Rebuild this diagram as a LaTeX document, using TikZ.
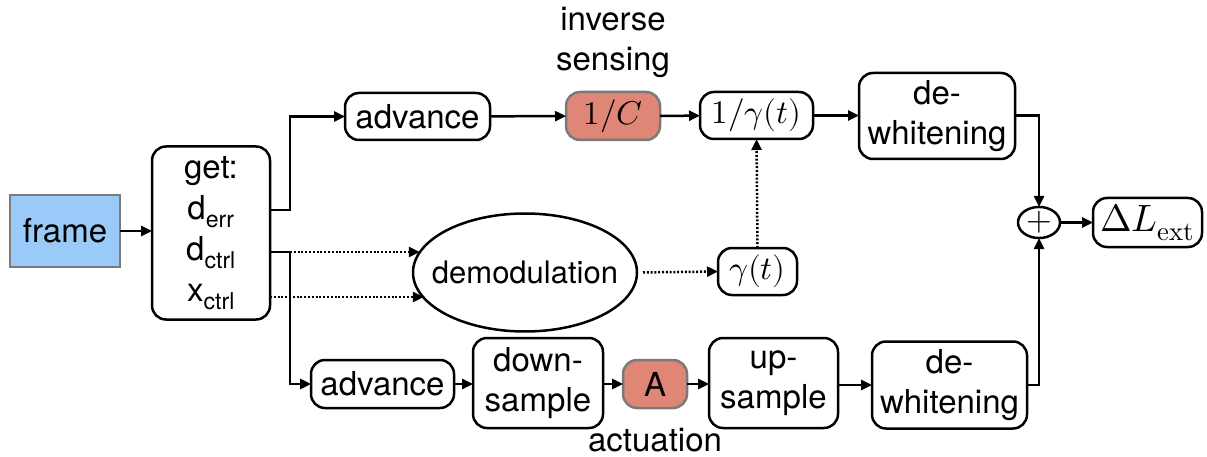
\documentclass[tikz,border=0pt]{standalone}
\usepackage{fontspec}
\usepackage{unicode-math}
\setmainfont{TeX Gyre Heros}
\setmathfont{Latin Modern Math}
\usetikzlibrary{arrows.meta,shapes.geometric}

\definecolor{framefill}{HTML}{9ACBF8}
\definecolor{gainfill}{HTML}{DF8677}
\definecolor{edgegray}{HTML}{7A7A7A}

\begin{document}
\begin{tikzpicture}[x=1pt,y=-1pt,
  every node/.style={font=\fontsize{33}{40}\selectfont, inner sep=0pt, outer sep=0pt},
  blk/.style={draw, line width=2.5pt, rounded corners=14pt, align=center},
  gain/.style={blk, draw=edgegray, fill=gainfill},
  arr/.style={-{Triangle[length=11pt,width=10pt]}, line width=2.5pt},
  wire/.style={line width=2.5pt},
  dotline/.style={dash pattern=on 2pt off 1.8pt}]

\path[use as bounding box] (0,0) rectangle (1207,457);

% input frame and channel reader
\node[draw=edgegray, line width=2.5pt, fill=framefill, minimum width=110pt, minimum height=72pt] (frame) at (65,231) {frame};
\node[blk, minimum width=118pt, minimum height=173pt, font=\fontsize{33}{41}\selectfont] (get) at (211,233) {get:\\d\textsubscript{err}\\d\textsubscript{ctrl}\\x\textsubscript{ctrl}};

% sensing path
\node[blk, minimum width=145pt, minimum height=47pt] (adv1) at (417.5,116.5) {advance};
\node[gain, minimum width=94pt, minimum height=48pt] (invC) at (613,116) {$1/C$};
\node[align=center] (senselbl) at (613,42) {inverse\\sensing};
\node[blk, minimum width=113pt, minimum height=47pt] (invg) at (756.5,115.5) {$1/\gamma(t)$};
\node[blk, minimum width=156pt, minimum height=86pt] (dw1) at (937,116) {de-\\whitening};

% demodulation path
\node[draw, ellipse, line width=2.5pt, minimum width=224pt, minimum height=118pt, font=\fontsize{31}{38}\selectfont] (demod) at (525,272.5) {\makebox[0pt]{demodulation}};
\node[blk, minimum width=79pt, minimum height=47pt] (gam) at (757.5,271.5) {$\gamma(t)$};

% actuation path
\node[blk, minimum width=143pt, minimum height=48pt] (adv2) at (382.5,384) {advance};
\node[blk, minimum width=130pt, minimum height=90pt] (down) at (538,383) {down-\\sample};
\node[gain, minimum width=64pt, minimum height=48pt] (A) at (655,384) {A};
\node (actlbl) at (655,440) {actuation};
\node[blk, minimum width=129pt, minimum height=90pt] (up) at (773.5,383) {up-\\sample};
\node[blk, minimum width=155pt, minimum height=87pt] (dw2) at (949.5,385) {de-\\whitening};

% sum and output
\node[draw, ellipse, line width=2.5pt, minimum width=42pt, minimum height=31pt] (plus) at (1039,222.5) {\makebox[0pt]{$+$}};
\node[blk, minimum width=109pt, minimum height=49pt, font=\fontsize{38}{44}\selectfont] (dL) at (1147.5,222.5) {$\Delta L_{\symup{ext}}$};

% tap points on the reader
\coordinate (derr) at (270,210);
\coordinate (dctrl) at (270,252);
\coordinate (xctrl) at (270,297);
\coordinate (split) at (290,252);

% connectors
\draw[arr] (frame) -- (frame -| get.west);
\draw[arr] (derr) -- ++(20,0) |- (adv1.west);
\draw[arr] (adv1) -- (invC);
\draw[arr] (invC) -- (invg);
\draw[arr] (invg) -- (invg -| dw1.west);
\draw[arr] (dw1.east |- invg) -| (plus.north);

\draw[wire] (dctrl) -- (split);
\draw[arr, dotline] (split) -- (split -| demod.169);
\draw[arr, dotline] (xctrl) -- (xctrl -| demod.194);
\draw[arr, dotline, shorten <=6pt] (demod.east) -- (gam.west);
\draw[arr, dotline] (gam.north) -- (invg.south);

\draw[arr] (split) |- (adv2.west);
\draw[arr] (adv2) -- (adv2 -| down.west);
\draw[arr] (down.east |- A) -- (A);
\draw[arr] (A) -- (A -| up.west);
\draw[arr] (up.east |- dw2) -- (dw2.west |- dw2);
\draw[arr] (dw2.east) -| (plus.south);
\draw[arr] (plus) -- (dL);
\end{tikzpicture}
\end{document}
